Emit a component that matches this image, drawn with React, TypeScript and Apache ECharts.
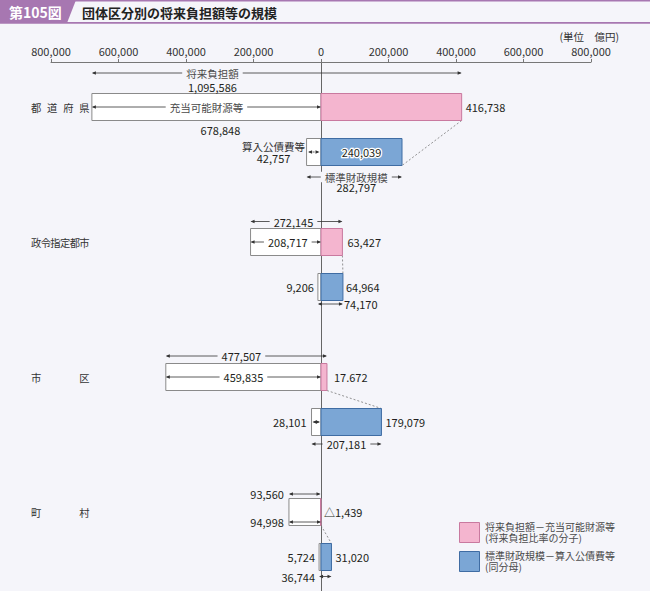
import React, { useEffect, useRef } from 'react';
import * as echarts from 'echarts';

// ---- data (億円) ----
const categories = ['都道府県', '政令指定都市', '市区', '町村'];
const futureBurden = [1095586, 272145, 477507, 93560]; // 将来負担額
const availableFunds = [678848, 208717, 459835, 94998]; // 充当可能財源等
const numerator = [416738, 63427, 17672, -1439]; // 将来負担額－充当可能財源等
const standardScale = [282797, 74170, 207181, 36744]; // 標準財政規模
const debtService = [42757, 9206, 28101, 5724]; // 算入公債費等
const denominator = [240039, 64964, 179079, 31020]; // 標準財政規模－算入公債費等
const numeratorLabels = ['416,738', '63,427', '17.672', '△1,439'];
const axisMin = -800000;
const axisMax = 800000;
const axisStep = 200000;

// ---- styles ----
const BG = '#F5F5FA';
const INK = '#231f20';
const GREY = '#4a4a4a';
const ARROW = '#333333';
const PURPLE = '#A777B1';
const PINK = '#F4B5CF';
const PINK_EDGE = '#C9799F';
const BLUE = '#7BA6D5';
const BLUE_EDGE = '#3F6CA3';
const WHITE_EDGE = '#8a8a8a';
const FF = '"Noto Sans CJK JP", "Noto Sans", sans-serif';
const font = (s: number, w = 'normal') => `${w} ${s}px ${FF}`;
const ROW_UNIT = 45;
const GRID_TOP = 62;
const GRID_H = 529;

const fmt = (v: number) => Math.abs(v).toString().replace(/\B(?=(\d{3})+(?!\d))/g, ',');

function txt(text: string, x: number, y: number, align = 'center', o: any = {}) {
  return {
    type: 'text',
    silent: true,
    z2: 20,
    style: {
      text,
      x,
      y,
      font: font(o.size ?? 11, o.weight ?? 'normal'),
      fill: o.fill ?? INK,
      align,
      verticalAlign: 'middle',
      lineHeight: o.lh,
      backgroundColor: o.bg,
      padding: o.bg ? [0, 4] : undefined,
      stroke: o.stroke,
      lineWidth: o.stroke ? 2.5 : 0,
      rich: o.rich,
    },
  };
}

function dblArrow(x1: number, x2: number, y: number, dashed = false) {
  const a = 4;
  const b = 1.8;
  return [
    {
      type: 'line',
      silent: true,
      z2: 10,
      shape: { x1: x1 + 1, y1: y, x2: x2 - 1, y2: y },
      style: { stroke: ARROW, lineWidth: 0.8, lineDash: dashed ? [2, 1.5] : null },
    },
    { type: 'polygon', silent: true, z2: 11, shape: { points: [[x1, y], [x1 + a, y - b], [x1 + a, y + b]] }, style: { fill: ARROW } },
    { type: 'polygon', silent: true, z2: 11, shape: { points: [[x2, y], [x2 - a, y - b], [x2 - a, y + b]] }, style: { fill: ARROW } },
  ];
}

function rect(x: number, y: number, w: number, h: number, fill: string, stroke: string) {
  return { type: 'rect', silent: true, z2: 5, shape: { x, y, width: w, height: h }, style: { fill, stroke, lineWidth: 1 } };
}

function renderItem(params: any, api: any) {
  const i = params.dataIndex;
  const avail = availableFunds[i];
  const num = numerator[i];
  const burden = futureBurden[i];
  const debt = debtService[i];
  const den = denominator[i];
  const scale = standardScale[i];
  const X = (v: number) => api.coord([v, 0])[0];
  const y1 = api.coord([0, i * 3])[1];
  const y2 = api.coord([0, i * 3 + 1])[1];
  const h = api.size([0, 1])[1] * 0.6;
  const hh = h / 2;
  const x0 = X(0);
  const xl = X(-avail);
  const xn = X(num);
  const xTopR = X(burden - avail);
  const xd = X(-debt);
  const xden = X(den);
  const xBotL = X(-debt);
  const xBotR = X(scale - debt);
  const ch: any[] = [];

  // category label, justified
  const chars = Array.from(categories[i]);
  const left = 31;
  const cw = 10.2;
  const span = 89.5 - left - cw;
  chars.forEach((c, k) => {
    ch.push(txt(c, left + (chars.length > 1 ? (k * span) / (chars.length - 1) : 0), y1, 'left', { size: 10.3, fill: '#333' }));
  });

  // bars
  ch.push(rect(xl, y1 - hh, x0 - xl, h, '#ffffff', WHITE_EDGE));
  ch.push(rect(Math.min(x0, xn), y1 - hh, Math.abs(xn - x0), h, PINK, PINK_EDGE));
  ch.push(rect(xd, y2 - hh, x0 - xd, h, '#ffffff', WHITE_EDGE));
  ch.push(rect(x0, y2 - hh, xden - x0, h, BLUE, BLUE_EDGE));

  // connector
  ch.push({
    type: 'line',
    silent: true,
    z2: 4,
    shape: { x1: Math.max(x0, xn), y1: y1 + hh, x2: xden, y2: i === 0 ? y2 + hh : y2 - hh },
    style: { stroke: '#777', lineWidth: 0.8, lineDash: [2, 2] },
  });

  const midW = (xl + x0) / 2;
  const midTop = (xl + xTopR) / 2;
  const midBot = (xBotL + xBotR) / 2;

  if (i === 0) {
    const ta = y1 - hh - 20.5;
    ch.push(...dblArrow(xl, xTopR, ta));
    ch.push(txt('将来負担額', midW + 6, ta, 'center', { bg: BG, fill: GREY, size: 10.5 }));
    ch.push(txt(fmt(burden), midW + 6, y1 - hh - 6.5, 'center'));
    ch.push(...dblArrow(xl, x0, y1));
    ch.push(txt('充当可能財源等', midW, y1, 'center', { bg: '#ffffff', fill: GREY, size: 10.5 }));
    ch.push(txt(fmt(avail), midW + 14, y1 + hh + 9, 'center'));
    ch.push(txt(numeratorLabels[i], xn + 4, y1, 'left'));
    ch.push(...dblArrow(xd + 1.5, x0 - 1.5, y2, true));
    ch.push(
      txt('{t|算入公債費等}\n{v|' + fmt(debt) + '}', xd - 33, y2 + 0.3, 'center', {
        rich: {
          t: { font: font(10.5), fill: '#333', lineHeight: 11.5, align: 'center' },
          v: { font: font(11), fill: INK, lineHeight: 11.5, align: 'center' },
        },
      })
    );
    ch.push(txt(fmt(den), (x0 + xden) / 2, y2, 'center', { stroke: '#ffffff' }));
    const ba = y2 + hh + 11.5;
    ch.push(...dblArrow(xBotL, xBotR, ba));
    ch.push(
      txt('{t|標準財政規模}\n{v|' + fmt(scale) + '}', midBot + 2, ba + 4.75, 'center', {
        rich: {
          t: { font: font(10.5), fill: GREY, lineHeight: 9.5, backgroundColor: BG, padding: [0, 4], align: 'center' },
          v: { font: font(11), fill: INK, lineHeight: 9.5, align: 'center' },
        },
      })
    );
  } else if (i === 1) {
    const ta = y1 - hh - 7;
    ch.push(...dblArrow(xl, xTopR, ta));
    ch.push(txt(fmt(burden), midTop - 3, ta, 'center', { bg: BG }));
    ch.push(...dblArrow(xl, x0, y1));
    ch.push(txt(fmt(avail), midW + 2, y1, 'center', { bg: '#ffffff' }));
    ch.push(txt(numeratorLabels[i], xn + 5, y1, 'left'));
    ch.push(txt(fmt(debt), xd - 4, y2, 'right'));
    ch.push(txt(fmt(den), xden + 3, y2, 'left'));
    const ba = y2 + hh + 3.5;
    ch.push(...dblArrow(xBotL, xBotR, ba));
    ch.push(txt(fmt(scale), xBotR + 1, ba, 'left'));
  } else if (i === 2) {
    const ta = y1 - hh - 7.5;
    ch.push(...dblArrow(xl, xTopR, ta));
    ch.push(txt(fmt(burden), midTop - 5, ta, 'center', { bg: BG }));
    ch.push(...dblArrow(xl, x0, y1));
    ch.push(txt(fmt(avail), midW, y1, 'center', { bg: '#ffffff' }));
    ch.push(txt(numeratorLabels[i], xn + 7, y1, 'left'));
    ch.push(...dblArrow(xd + 1, x0 - 1, y2));
    ch.push(txt(fmt(debt), xd - 5, y2, 'right'));
    ch.push(txt(fmt(den), xden + 4, y2, 'left'));
    const ba = y2 + hh + 8.5;
    ch.push(...dblArrow(xBotL, xBotR, ba));
    ch.push(txt(fmt(scale), midBot, ba, 'center', { bg: BG }));
  } else {
    const ta = y1 - hh - 4.5;
    ch.push(...dblArrow(xl, xTopR, ta));
    ch.push(txt(fmt(burden), xl - 5, ta, 'right'));
    const ia = y1 + hh - 3.5;
    ch.push(...dblArrow(xl, x0, ia));
    ch.push(txt(fmt(avail), xl - 5, ia, 'right'));
    ch.push(txt(numeratorLabels[i], x0 + 3, y1, 'left'));
    ch.push(txt(fmt(debt), xd - 4, y2, 'right'));
    ch.push(txt(fmt(den), xden + 4, y2, 'left'));
    const ba = y2 + hh + 6;
    ch.push(...dblArrow(xBotL, xBotR, ba));
    ch.push(txt(fmt(scale), xBotL - 4, ba, 'right'));
  }

  return { type: 'group', children: ch };
}

export default function App() {
  const ref = useRef<HTMLDivElement>(null);
  useEffect(() => {
    const chart = echarts.init(ref.current!, null, { renderer: 'svg' });
    const option: any = {
      animation: false,
      backgroundColor: BG,
      grid: { left: 51, right: 59, top: GRID_TOP, height: GRID_H, containLabel: false },
      xAxis: {
        type: 'value',
        position: 'top',
        min: axisMin,
        max: axisMax,
        interval: axisStep,
        axisLine: { show: true, onZero: false, lineStyle: { color: '#777', width: 1 } },
        axisTick: { show: true, length: 3, lineStyle: { color: '#777' } },
        splitLine: { show: false },
        axisLabel: { margin: 6, color: '#333', fontSize: 11, fontFamily: FF, formatter: (v: number) => fmt(v) },
      },
      yAxis: {
        type: 'value',
        inverse: true,
        min: -1,
        max: -1 + GRID_H / ROW_UNIT,
        axisLine: { show: true, onZero: true, lineStyle: { color: '#666', width: 1 } },
        axisTick: { show: false },
        axisLabel: { show: false },
        splitLine: { show: false },
      },
      series: [
        {
          type: 'custom',
          renderItem,
          data: categories.map((_, i) => [0, i * 3]),
          encode: { x: 0, y: 1 },
          clip: false,
          silent: true,
        },
      ],
      graphic: [
        { type: 'rect', shape: { x: 0, y: 0, width: 650, height: 1.5 }, style: { fill: PURPLE } },
        { type: 'rect', shape: { x: 0, y: 22, width: 650, height: 1.8 }, style: { fill: PURPLE } },
        { type: 'polygon', shape: { points: [[0, 0], [76, 0], [67, 23], [0, 23]] }, style: { fill: PURPLE } },
        { type: 'text', style: { text: '第105図', x: 9, y: 12, font: font(14, 'bold'), fill: '#ffffff', align: 'left', verticalAlign: 'middle' } },
        { type: 'text', style: { text: '団体区分別の将来負担額等の規模', x: 82, y: 12, font: font(13, 'bold'), fill: '#222', align: 'left', verticalAlign: 'middle' } },
        { type: 'text', style: { text: '(単位　億円)', x: 619, y: 36, font: font(10.5), fill: '#333', align: 'right', verticalAlign: 'middle' } },
        { type: 'rect', shape: { x: 459.5, y: 522.5, width: 20, height: 20 }, style: { fill: PINK, stroke: PINK_EDGE, lineWidth: 1 } },
        { type: 'text', style: { text: '将来負担額－充当可能財源等\n(将来負担比率の分子)', x: 485, y: 531.5, font: font(10), lineHeight: 11, fill: GREY, align: 'left', verticalAlign: 'middle' } },
        { type: 'rect', shape: { x: 459.5, y: 551.5, width: 20, height: 20 }, style: { fill: BLUE, stroke: BLUE_EDGE, lineWidth: 1 } },
        { type: 'text', style: { text: '標準財政規模－算入公債費等\n(同分母)', x: 485, y: 560.5, font: font(10), lineHeight: 11, fill: GREY, align: 'left', verticalAlign: 'middle' } },
      ],
    };
    chart.setOption(option);
    return () => chart.dispose();
  }, []);
  return (
    <div
      ref={ref}
      style={{ position: 'absolute', left: 0, top: 0, width: 650, height: 591, background: BG }}
    />
  );
}
